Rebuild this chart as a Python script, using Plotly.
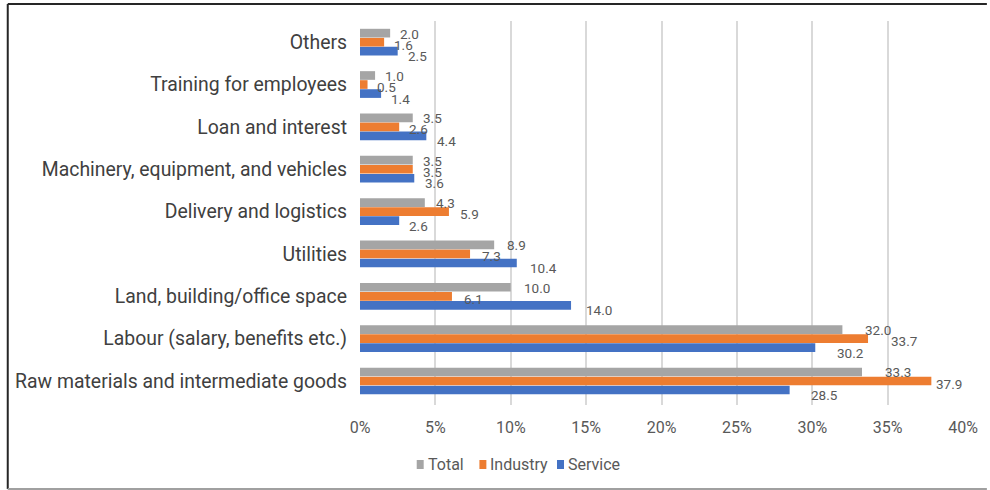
import plotly.graph_objects as go

# Categories listed bottom-to-top as drawn on the y axis
categories = [
    "Raw materials and intermediate goods",
    "Labour (salary, benefits etc.)",
    "Land, building/office space",
    "Utilities",
    "Delivery and logistics",
    "Machinery, equipment, and vehicles",
    "Loan and interest",
    "Training for employees",
    "Others",
]

total = [33.3, 32.0, 10.0, 8.9, 4.3, 3.5, 3.5, 1.0, 2.0]
industry = [37.9, 33.7, 6.1, 7.3, 5.9, 3.5, 2.6, 0.5, 1.6]
service = [28.5, 30.2, 14.0, 10.4, 2.6, 3.6, 4.4, 1.4, 2.5]

x_ticks = [0, 5, 10, 15, 20, 25, 30, 35, 40]
x_tick_labels = [f"{t}%" for t in x_ticks]
X_MAX = 40

FONT = "Roboto"
LABEL_GREY = "#595959"

# (name, values, colour, label vertical shift in px);
# Service drawn first so it sits lowest in each group
series = [
    ("Service", service, "#4472C4", -14.0),
    ("Industry", industry, "#ED7D31", -2.5),
    ("Total", total, "#A5A5A5", 8.6),
]
colors = {name: color for name, _, color, _ in series}

# Page geometry (pixels) and helpers to convert to paper units
L, R, T, B = 360, 24, 21, 85
W, H = 990, 490
pw, ph = W - L - R, H - T - B
px_per_unit = pw / X_MAX


def px_x(p):
    return (p - L) / pw


def px_y(p):
    return (H - B - p) / ph


fig = go.Figure()
annotations = []
for name, vals, color, dy in series:
    fig.add_trace(go.Bar(
        y=categories,
        x=vals,
        name=name,
        orientation="h",
        marker=dict(color=color, line=dict(width=0)),
        showlegend=False,
        hoverinfo="skip",
    ))
    # value labels just past the bar end, kept inside the plot area
    for cat, v in zip(categories, vals):
        gap = min(7 + 0.42 * v, (X_MAX - v) * px_per_unit - 29)
        annotations.append(dict(
            x=v, y=cat, xref="x", yref="y",
            xanchor="left", yanchor="middle", showarrow=False,
            xshift=gap, yshift=dy,
            text=f"{v:.1f}",
            font=dict(family=FONT, size=13.5, color=LABEL_GREY),
        ))

# Outer frame
frame = [
    dict(x0=6, x1=990, y0=4, y1=4, color="#262626"),
    dict(x0=6, x1=6, y0=4, y1=489, color="#262626"),
    dict(x0=6, x1=990, y0=489, y1=489, color="#A0A0A0"),
]
shapes = [
    dict(type="line", xref="paper", yref="paper",
         x0=px_x(f["x0"]), x1=px_x(f["x1"]), y0=px_y(f["y0"]), y1=px_y(f["y1"]),
         line=dict(color=f["color"], width=2))
    for f in frame
]

# Legend drawn below the axis: coloured key + label for each series
legend_items = [("Total", 417), ("Industry", 480), ("Service", 558)]
for name, left in legend_items:
    shapes.append(dict(
        type="rect", xref="paper", yref="paper",
        x0=px_x(left), x1=px_x(left + 7), y0=px_y(469), y1=px_y(460),
        fillcolor=colors[name], line=dict(width=0),
    ))
    annotations.append(dict(
        xref="paper", yref="paper", x=px_x(left + 9), y=px_y(464.5),
        xanchor="left", yanchor="middle", showarrow=False,
        text=name, font=dict(family=FONT, size=16, color=LABEL_GREY),
    ))

fig.update_layout(
    width=W,
    height=H,
    margin=dict(l=L, r=R, t=T, b=B),
    paper_bgcolor="white",
    plot_bgcolor="white",
    barmode="group",
    bargap=0.36,
    bargroupgap=0.04,
    font=dict(family=FONT, color=LABEL_GREY),
    xaxis=dict(
        range=[0, X_MAX],
        tickvals=x_ticks,
        ticktext=x_tick_labels,
        tickfont=dict(family=FONT, size=16, color=LABEL_GREY),
        showgrid=True,
        gridcolor="#D9D9D9",
        gridwidth=2,
        zeroline=False,
        showline=False,
        ticks="",
        ticklabelstandoff=11,
        fixedrange=True,
    ),
    yaxis=dict(
        categoryorder="array",
        categoryarray=categories,
        tickfont=dict(family=FONT, size=19.4, color="#404040"),
        showgrid=False,
        zeroline=False,
        showline=False,
        ticks="",
        ticklabelstandoff=12,
        fixedrange=True,
    ),
    shapes=shapes,
    annotations=annotations,
)

fig.write_html("out.html")
